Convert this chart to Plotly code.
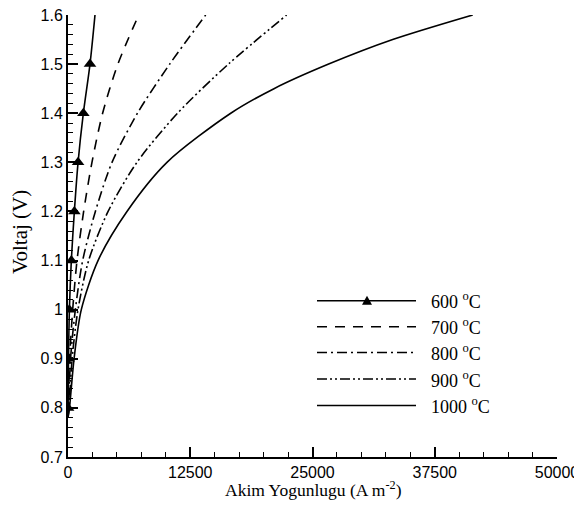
import plotly.graph_objects as go

# ---- data ----
v600 = [0.78, 0.8, 0.9, 1.0, 1.1, 1.2, 1.3, 1.4, 1.5, 1.6]
i600 = [0, 10, 50, 140, 340, 650, 1030, 1570, 2250, 2760]

v700 = [0.78, 0.8, 0.9, 1.0, 1.1, 1.2, 1.3, 1.4, 1.5, 1.6]
i700 = [0, 40, 170, 480, 920, 1600, 2450, 3540, 5100, 7230]

v800 = [0.78, 0.8, 0.9, 1.0, 1.1, 1.2, 1.3, 1.4, 1.5, 1.6]
i800 = [0, 60, 260, 750, 1500, 2800, 4500, 7100, 10400, 14080]

v900 = [0.78, 0.8, 0.9, 1.0, 1.1, 1.2, 1.3, 1.4, 1.5, 1.6]
i900 = [0, 100, 420, 1020, 2110, 4100, 7050, 11200, 16400, 22360]

v1000 = [0.78, 0.8, 0.9, 1.0, 1.1, 1.2, 1.3, 1.4, 1.45, 1.5, 1.55, 1.6]
i1000 = [0, 150, 620, 1360, 3070, 6030, 10120, 16640, 21060, 26650, 33200, 41380]

labels = ["600 <sup>o</sup>C", "700 <sup>o</sup>C", "800 <sup>o</sup>C",
          "900 <sup>o</sup>C", "1000 <sup>o</sup>C"]
dashes = ["solid", "10px,8px", "10px,4px,2px,4px", "10px,3px,2px,3px,2px,3px", "solid"]
series = [(i600, v600), (i700, v700), (i800, v800), (i900, v900), (i1000, v1000)]

x_ticks = [0, 12500, 25000, 37500, 50000]

SERIF = "Liberation Serif, Times New Roman, serif"

fig = go.Figure()
for (xs, ys), dash, lab in zip(series, dashes, labels):
    fig.add_trace(go.Scatter(x=xs, y=ys, mode="lines", name=lab,
                             line=dict(color="black", width=1.6, dash=dash, shape="spline", smoothing=0.8),
                             showlegend=False))
# triangle markers on the 600 C curve
fig.add_trace(go.Scatter(x=i600[1:-1], y=v600[1:-1], mode="markers",
                         marker=dict(symbol="triangle-up", size=11, color="black"),
                         showlegend=False))

# ---- custom legend (layout, paper coords; positions given in page pixels) ----
W, H, L, B = 489.0, 442.0, 68.0, 457.0
def px(x):
    return (x - L) / W
def py(y):
    return (B - y) / H

rows = [300.7, 326.7, 352.5, 379.0, 405.5]
shapes = []
annotations = []
for r, dash, lab in zip(rows, dashes, labels):
    shapes.append(dict(type="line", xref="paper", yref="paper",
                       x0=px(317), x1=px(416), y0=py(r), y1=py(r),
                       line=dict(color="black", width=1.6, dash=dash)))
    annotations.append(dict(xref="paper", yref="paper", x=px(429), y=py(r),
                            xanchor="left", yanchor="middle", text=lab, showarrow=False,
                            font=dict(family=SERIF, size=18, color="black")))
# triangle in legend sample
tx, ty = 367, rows[0]
shapes.append(dict(type="path", xref="paper", yref="paper",
                   path=f"M {px(tx-5)},{py(ty+4)} L {px(tx+5)},{py(ty+4)} L {px(tx)},{py(ty-5)} Z",
                   fillcolor="black", line=dict(color="black", width=0)))

# axis titles
annotations.append(dict(xref="paper", yref="paper", x=px(313), y=py(489),
                        xanchor="center", yanchor="middle", showarrow=False,
                        text="Akim Yogunlugu (A m<sup>-2</sup>)",
                        font=dict(family=SERIF, size=17.5, color="black")))
annotations.append(dict(xref="paper", yref="paper", x=px(20), y=py(232),
                        xanchor="center", yanchor="middle", showarrow=False, textangle=-90,
                        text="Voltaj (V)",
                        font=dict(family=SERIF, size=21, color="black")))

# the page body adds an 8px offset, so the figure is 8px smaller and margins shifted
fig.update_layout(
    width=574, height=502,
    margin=dict(l=60, r=25, t=7, b=53),
    paper_bgcolor="white", plot_bgcolor="white",
    shapes=shapes, annotations=annotations,
    font=dict(family="Liberation Sans, Arial, sans-serif", size=16, color="black"),
)
fig.update_xaxes(
    range=[0, 50000], tickvals=x_ticks, tickformat="d", automargin=False,
    ticklabeloverflow="allow",
    showline=True, linecolor="black", linewidth=2, mirror=False,
    showgrid=False, zeroline=False,
    ticks="inside", ticklen=10, tickwidth=2, tickcolor="black",
    minor=dict(dtick=2500, ticks="inside", ticklen=5, tickwidth=1, tickcolor="black", showgrid=False),
    tickfont=dict(size=16),
)
fig.update_yaxes(
    range=[0.7, 1.6], dtick=0.1, tick0=0.7, automargin=False,
    ticklabeloverflow="allow",
    showline=True, linecolor="black", linewidth=2, mirror=False,
    showgrid=False, zeroline=False,
    ticks="inside", ticklen=10, tickwidth=2, tickcolor="black",
    minor=dict(dtick=0.02, ticks="inside", ticklen=5, tickwidth=1, tickcolor="black", showgrid=False),
    tickfont=dict(size=16),
)

fig.write_html("out.html")
